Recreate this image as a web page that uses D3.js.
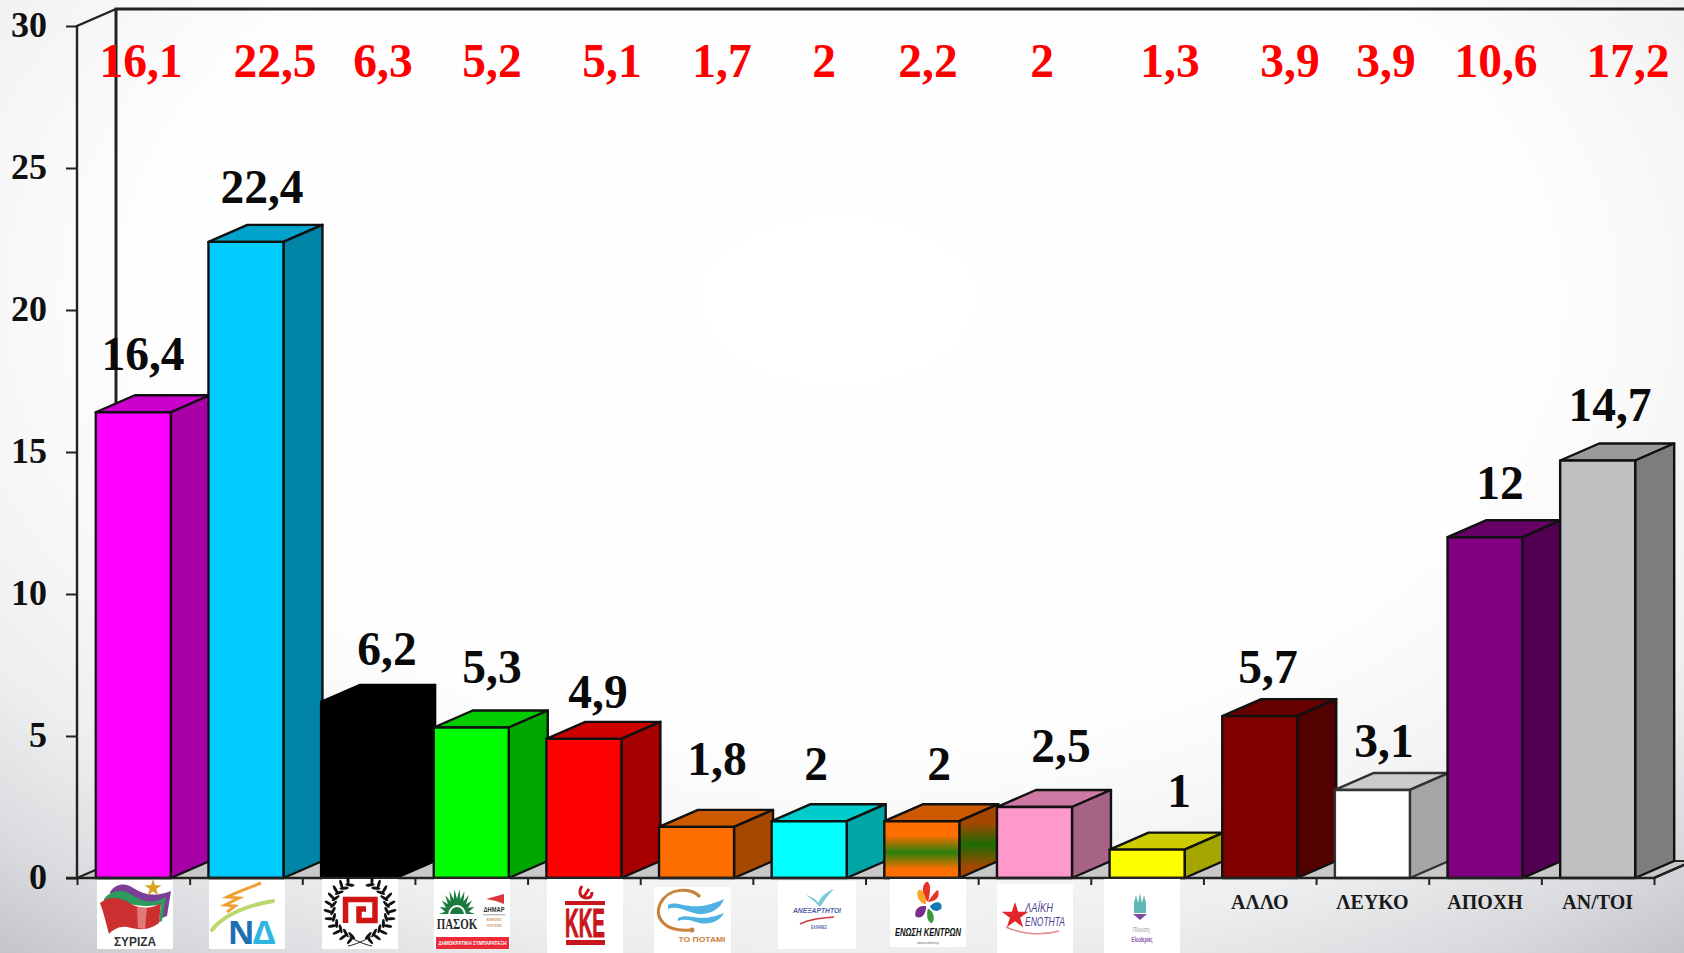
<!DOCTYPE html>
<html lang="el">
<head>
<meta charset="UTF-8">
<title>Δημοσκόπηση</title>
<style>
  html,body{margin:0;padding:0;background:#fff;overflow:hidden}
  svg{display:block}
  text{font-family:'Liberation Serif',serif;font-weight:700}
  .axis path{display:none}
  .axis line{stroke:#222;stroke-width:2}
  .logo text{font-family:'Liberation Sans',sans-serif}
</style>
</head>
<body>
<div id="chart"></div>
<script src="https://d3js.org/d3.v7.min.js"></script>
<script>
/* data */
const parties  =["ΣΥΡΙΖΑ","ΝΔ","ΧΑ","ΠΑΣΟΚ","ΚΚΕ","ΠΟΤΑΜΙ","ΑΝΕΞ","ΕΚ","ΛΑΕ","ΠΕ","ΑΛΛΟ","ΛΕΥΚΟ","ΑΠΟΧΗ","ΑΝ/ΤΟΙ"];
const current  =[16.4,22.4,6.2,5.3,4.9,1.8,2,2,2.5,1,5.7,3.1,12,14.7];
const previous =[16.1,22.5,6.3,5.2,5.1,1.7,2,2.2,2,1.3,3.9,3.9,10.6,17.2];
const barColors=["#ff00ff","#00ccff","#000000","#00ff00","#ff0000","#ff6e00","#00ffff","#ff6e00","#ff99cc","#ffff00","#800000","#ffffff","#800080","#c0c0c0"];
const textCats =["ΑΛΛΟ","ΛΕΥΚΟ","ΑΠΟΧΗ","ΑΝ/ΤΟΙ"];
const yTicks   =[0,5,10,15,20,25,30];

/* hand placed labels, as in the slide */
const currentLabelX=[143,262,387,492,598,717,816,939,1061,1179,1268,1384,1500,1610];
const currentLabelY=[370,203,665,683,708,775,780,780,762,807,683,757,499,421];
const previousLabelX=[141,275,383,492,612,722,824,928,1042,1170,1290,1386,1496,1628];
const logoBoxes=[[97,880,76,69],[209,880,76,69],[322,879,76,70],[434,879,76,70],[547,879,76,74],
                 [654,887,77,66],[778,881,78,68],[890,879,76,68],[997,884,76,69],[1104,879,76,74]];

const W=1684,H=953,depthX=39,depthY=17;

const x=d3.scaleBand().domain(parties).range([77,1654]).paddingInner(.334).paddingOuter(.167);
const xEdge=d3.scaleLinear().domain([0,14]).range([77,1654]);
const y=d3.scaleLinear().domain([0,30]).range([878,26]);
const fmt=v=>String(v).replace(".",",");

const svg=d3.select("#chart").append("svg").attr("width",W).attr("height",H);
const defs=svg.append("defs");

/* background */
const bg=defs.append("radialGradient").attr("id","bg").attr("gradientUnits","userSpaceOnUse")
  .attr("cx",0).attr("cy",0).attr("r",1.06).attr("gradientTransform","translate(840,300) scale(1250,800)");
[[0,"#ffffff"],[.52,"#fefefe"],[.66,"#f6f6f7"],[.77,"#edeeef"],[.9,"#d8dadd"],[1,"#c2c4c7"]]
  .forEach(s=>bg.append("stop").attr("offset",s[0]).attr("stop-color",s[1]));
svg.append("rect").attr("width",W).attr("height",H).attr("fill","url(#bg)");

/* orange-green stripe of the 8th bar */
function stripe(id,a,b){
  const g=defs.append("linearGradient").attr("id",id).attr("x1",0).attr("y1",0).attr("x2",0).attr("y2",1);
  [[0,a],[.25,a],[.55,b],[.85,a],[1,a]].forEach(s=>g.append("stop").attr("offset",s[0]).attr("stop-color",s[1]));
}
stripe("stripeFront","#ff6e00","#2a7f0c");
stripe("stripeSide","#a64700","#1c6a04");

/* walls and floor */
const frame=svg.append("g").attr("fill","none").attr("stroke","#222");
const px=a=>a.map(p=>p.join(",")).join(" ");
frame.append("polygon").attr("fill","#c8c8c8").attr("stroke-width",2)
  .attr("points",px([[77,y(0)],[77+depthX,y(0)-depthY],[1654+depthX,y(0)-depthY],[1654,y(0)]]));
frame.append("path").attr("stroke-width",2.4)
  .attr("d",`M77,${y(0)}V${y(30)}L${77+depthX},${y(30)-depthY}`);
frame.append("path").attr("stroke-width",3)
  .attr("d",`M${W},${y(30)-depthY}H${77+depthX}V${y(0)-depthY}`);

/* bars */
const bars=svg.append("g").selectAll("g").data(parties).join("g")
  .attr("stroke",(d,i)=>i==2?"#000":i==11?"#333":"#111").attr("stroke-width",2.4).attr("stroke-linejoin","round");
bars.each(function(d,i){
  const g=d3.select(this),x0=x(d),x1=x0+x.bandwidth(),top=y(current[i]),base=y(0),c=d3.rgb(barColors[i]);
  const shade=k=>d3.rgb(c.r*k,c.g*k,c.b*k).formatHex();
  g.append("polygon").attr("fill",shade(.8))
   .attr("points",px([[x0,top],[x0+depthX,top-depthY],[x1+depthX,top-depthY],[x1,top]]));
  g.append("polygon").attr("fill",i==7?"url(#stripeSide)":shade(.65))
   .attr("points",px([[x1,top],[x1+depthX,top-depthY],[x1+depthX,base-depthY],[x1,base]]));
  g.append("rect").attr("x",x0).attr("y",top).attr("width",x.bandwidth()).attr("height",base-top)
   .attr("fill",i==7?"url(#stripeFront)":c.formatHex());
});

/* axes */
svg.append("g").attr("class","axis").attr("transform","translate(77,0)")
  .call(d3.axisLeft(y).tickValues(yTicks).tickSize(11).tickPadding(19))
  .selectAll("text").attr("font-size",36).attr("fill","#111").attr("dy",".3em")
  .style("font-family","'Liberation Serif',serif").style("font-weight",700);
svg.append("g").attr("class","axis").attr("transform",`translate(0,${y(0)})`)
  .call(d3.axisBottom(xEdge).ticks(14).tickSize(7).tickFormat(""));
svg.append("path").attr("fill","none").attr("stroke","#222").attr("stroke-width",2.5)
  .attr("d",`M66,${y(0)}H1654L${1654+depthX},${y(0)-depthY}`);

/* value labels */
svg.append("g").selectAll("text").data(current).join("text")
  .attr("x",(d,i)=>currentLabelX[i]).attr("y",(d,i)=>currentLabelY[i])
  .attr("text-anchor","middle").attr("font-size",47.5).attr("fill","#0a0a0a").text(fmt);
svg.append("g").selectAll("text").data(previous).join("text")
  .attr("x",(d,i)=>previousLabelX[i]).attr("y",77)
  .attr("text-anchor","middle").attr("font-size",47.5).attr("fill","#ff0000").text(fmt);

/* text categories */
svg.append("g").selectAll("text").data(textCats).join("text")
  .attr("x",d=>x(d)+x.bandwidth()/2).attr("y",909)
  .attr("text-anchor","middle").attr("font-size",20).attr("fill","#1a1a1a").text(d=>d);

/* party logos, drawn in the local space of each white box */
function label(g,t,xp,yp,size,fill,opt={}){
  const e=g.append("text").attr("x",xp).attr("y",yp).attr("font-size",size).attr("fill",fill)
    .attr("text-anchor",opt.anchor||"middle").text(t);
  if(opt.font)e.style("font-family",opt.font);
  if(opt.italic)e.attr("font-style","italic");
  if(opt.weight)e.style("font-weight",opt.weight);
  if(opt.len)e.attr("textLength",opt.len).attr("lengthAdjust","spacingAndGlyphs");
  if(opt.stroke)e.attr("stroke",fill).attr("stroke-width",opt.stroke);
  return e;
}
const drawLogo=[
  g=>{ // syriza
    g.append("path").attr("fill","#7b3f98").attr("d","M13,12C20,2 30,3 38,9C47,15 58,17 74,11L70,36L65,38L66,22C48,26 30,16 13,15Z");
    g.append("path").attr("fill","#2e9a5d").attr("d","M7,19C16,8 28,10 37,16C47,22 56,24 69,17L65,41L62,42L64,24C46,30 28,20 7,23Z");
    g.append("path").attr("fill","#cc2f2f").attr("d","M3,23C14,14 26,19 36,25C45,29 54,29 64,23L62,43C50,52 40,49 30,47C22,46 16,50 12,54C9,44 7,33 3,23Z");
    g.append("path").attr("fill","#e89a9a").attr("opacity",.7).attr("d","M40,27L50,28L48,49L41,48Z");
    g.append("path").attr("fill","#d6a41e").attr("d",d3.symbol().type(d3.symbolStar).size(90)()).attr("transform","translate(56,8)");
    label(g,"ΣΥΡΙΖΑ",38,66,13,"#333",{len:42});
  },
  g=>{ // nd
    g.append("path").attr("fill","none").attr("stroke","#f0a030").attr("stroke-width",3)
     .attr("d","M52,3C40,8 28,12 18,17L30,18L16,25L26,26L18,32");
    g.append("path").attr("fill","none").attr("stroke","#b9d86f").attr("stroke-width",4).attr("stroke-linecap","round")
     .attr("d","M3,50C14,36 36,26 64,21");
    label(g,"Ν",32,64,33,"#1c6fb5",{font:"'Noto Sans',sans-serif"});
    label(g,"Δ",55,64,33,"#2fb5e0",{font:"'Noto Sans',sans-serif"});
  },
  g=>{ // wreath with meander
    const leaf=g.append("g").attr("transform","translate(38,31)");
    d3.range(11).forEach(i=>{
      [-1,1].forEach(s=>{
        const a=(22+i*14)*Math.PI/180;
        [27,32].forEach((r,k)=>{
          const xp=s*r*Math.sin(a),yp=-r*Math.cos(a);
          leaf.append("ellipse").attr("rx",1.5).attr("ry",4.6)
            .attr("transform",`translate(${xp},${yp}) rotate(${s*((22+i*14)+(k?-20:60))})`).attr("fill","#111");
        });
      });
    });
    g.append("path").attr("fill","none").attr("stroke","#222").attr("stroke-width",1)
     .attr("d","M26,57C34,62 44,66 50,67M50,57C42,62 32,66 26,67");
    g.append("path").attr("fill","none").attr("stroke","#d01515").attr("stroke-width",5.5)
     .attr("d","M23.5,44V20.5H53V41.5H37V30H44");
  },
  g=>{ // pasok + dimar
    const ray=d3.range(0,23).map(i=>{
      const a=Math.PI+i*Math.PI/22,rx=i%2?12:18,ry=i%2?15:25;
      return [23+rx*Math.cos(a),35+ry*Math.sin(a)];
    });
    g.append("polygon").attr("fill","#1b7a3e").attr("points",px(ray));
    g.append("path").attr("fill","none").attr("stroke","#fff").attr("stroke-width",2).attr("d","M15,36A8,9 0 0 1 31,36");
    const squeezed=g.append("g").attr("transform","translate(23,50) scale(.73,1)");
    label(squeezed,"ΠΑΣΟΚ",0,0,15,"#2b2b2b",{font:"'Liberation Serif',serif"});
    g.append("path").attr("fill","#d9363e").attr("d","M52,20L70,15L70,25L62,22Z");
    label(g,"ΔΗΜΑΡ",60,33,7,"#333",{len:21});
    g.append("rect").attr("x",49).attr("y",35).attr("width",22).attr("height",1.4).attr("fill","#bbb");
    label(g,"ΚΙΝΗΣΕΙΣ",60,42,4.2,"#c96",{len:15});
    label(g,"ΠΟΛΙΤΩΝ",60,48,4.2,"#c96",{len:15});
    g.append("rect").attr("x",2).attr("y",58).attr("width",73).attr("height",12).attr("fill","#ec2b38");
    label(g,"ΔΗΜΟΚΡΑΤΙΚΗ ΣΥΜΠΑΡΑΤΑΞΗ",38.5,66,6,"#fff",{len:68});
  },
  g=>{ // kke
    g.append("path").attr("fill","none").attr("stroke","#c8161d").attr("stroke-width",3)
     .attr("d","M35,7C31,13 33,19 40,19C44,19 45,16 45,13M36,19L42,10");
    g.append("rect").attr("x",18).attr("y",22).attr("width",40).attr("height",4).attr("fill","#c8161d");
    g.append("rect").attr("x",19).attr("y",61).attr("width",39).attr("height",5).attr("fill","#c8161d");
    label(g,"ΚΚΕ",38,58,41,"#c8161d",{len:40,stroke:1});
  },
  g=>{ // potami
    g.append("path").attr("fill","none").attr("stroke","#c8823e").attr("stroke-width",3)
     .attr("d","M46,10C38,0 14,0 6,17C0,32 12,45 36,43");
    g.append("circle").attr("cx",38).attr("cy",43).attr("r",2.5).attr("fill","#c8823e");
    g.append("path").attr("fill","#4fb2e3").attr("d","M14,18C26,12 36,28 70,12C66,24 52,28 44,27C32,25 24,18 14,22Z");
    g.append("path").attr("fill","#4fb2e3").attr("d","M24,31C36,25 44,37 70,26C66,34 56,38 46,36C38,34 32,31 24,34Z");
    label(g,"ΤΟ ΠΟΤΑΜΙ",48,55,8,"#c8823e",{len:47});
  },
  g=>{ // anexartitoi
    g.append("path").attr("fill","#7cc9dc").attr("d","M28,14C34,16 38,18 40,22C44,14 50,10 56,8C50,14 46,20 42,26C38,22 34,18 28,14Z");
    label(g,"ΑΝΕΞΑΡΤΗΤΟΙ",39,32,7,"#4f5da8",{len:48,italic:true});
    g.append("path").attr("fill","none").attr("stroke","#cf3b40").attr("stroke-width",1.6).attr("d","M22,43C32,38 44,37 56,36");
    label(g,"ΕΛΛΗΝΕΣ",41,48,4.5,"#4f5da8",{len:16});
  },
  g=>{ // enosi kentron
    const petals=g.append("g").attr("transform","translate(38,24) scale(.95,1.12) translate(-38,-21)");
    [["#e8332a","M38,20C30,14 32,3 37,2C42,3 40,14 38,20Z"],["#e8332a","M38,20C44,12 50,6 49,12C50,17 44,20 38,20Z"],
     ["#f5a623","M36,22C28,22 24,12 29,9C34,10 36,16 36,22Z"],["#1478b4","M40,24C46,18 54,20 52,26C48,30 42,28 40,24Z"],
     ["#7b2d8b","M36,24C28,22 23,28 25,33C30,36 36,32 36,24Z"],["#3a9a3a","M38,26C44,28 46,36 42,39C37,38 36,32 38,26Z"]]
      .forEach(p=>petals.append("path").attr("fill",p[0]).attr("d",p[1]));
    label(g,"ΕΝΩΣΗ ΚΕΝΤΡΩΝ",38,57,10,"#111",{len:66,italic:true});
    label(g,"www.enosikentron.gr",38,65,3.5,"#888",{len:22});
  },
  g=>{ // laiki enotita
    g.append("path").attr("fill","#e3262b").attr("d",d3.symbol().type(d3.symbolStar).size(220)()).attr("transform","translate(18,32)");
    label(g,"ΛΑΪΚΗ",28,28,12,"#4b3f97",{anchor:"start",len:28,italic:true,weight:400});
    label(g,"ΕΝΟΤΗΤΑ",28,42,12,"#4b3f97",{anchor:"start",len:40,italic:true,weight:400});
    g.append("path").attr("fill","none").attr("stroke","#e88a8a").attr("stroke-width",1.5).attr("d","M9,43C24,50 44,52 62,47");
  },
  g=>{ // plefsi eleftherias
    g.append("path").attr("fill","#5fb8b5").attr("d","M30,24L32,16L34,24L36,14L38,24L40,16L42,24L42,34L30,34Z");
    g.append("path").attr("fill","#7b4aa0").attr("d","M29,35L43,35L36,41Z");
    label(g,"Πλεύση",37,53,7,"#9a9a9a",{weight:400,len:17});
    label(g,"Ελευθερίας",38,63,7,"#8a4aa5",{len:21});
  }
];
logoBoxes.forEach((b,i)=>{
  const g=svg.append("g").attr("class","logo").attr("transform",`translate(${b[0]},${b[1]})`);
  g.append("rect").attr("width",b[2]).attr("height",b[3]).attr("fill","#fff");
  drawLogo[i](g);
});
</script>
</body>
</html>
